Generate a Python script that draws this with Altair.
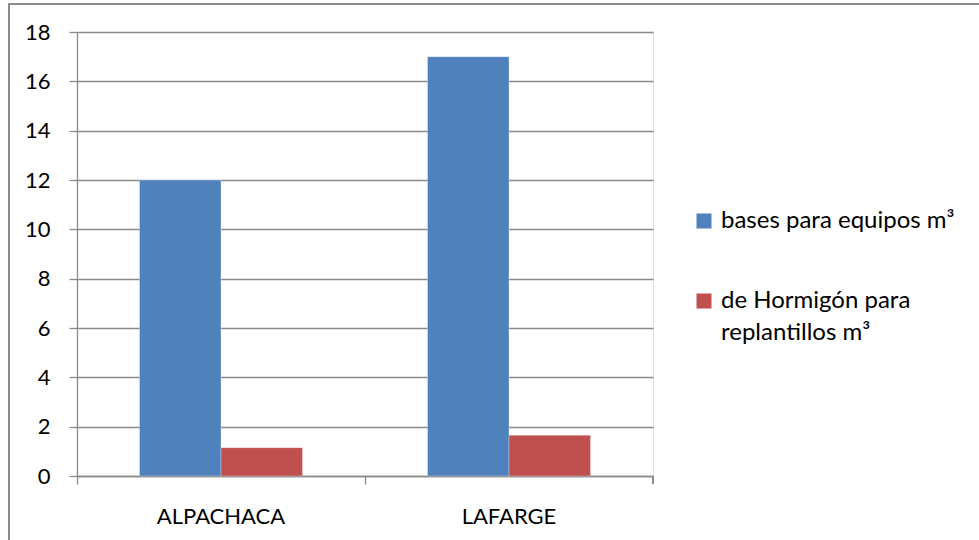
import altair as alt
import pandas as pd

categories = ["ALPACHACA", "LAFARGE"]
series = ["bases para equipos m³", "de Hormigón para replantillos m³"]
bases_values = [12, 17]
hormigon_values = [1.15, 1.65]
y_ticks = [0, 2, 4, 6, 8, 10, 12, 14, 16, 18]
colors = ["#4F81BD", "#C0504D"]

rows = []
for c, v in zip(categories, bases_values):
    rows.append({"categoria": c, "serie": series[0], "valor": v})
for c, v in zip(categories, hormigon_values):
    rows.append({"categoria": c, "serie": series[1], "valor": v})
df = pd.DataFrame(rows)

W, H = 576, 444
GRID = "#8a8a8a"
FONT = "Lato"

label_expr = (
    "datum.label == '" + series[1] + "' ? ['de Hormigón para', 'replantillos m³'] : datum.label"
)

bars = alt.Chart(df).mark_bar(stroke="white", strokeWidth=0.5, strokeOpacity=0.6).encode(
    x=alt.X(
        "categoria:N",
        sort=categories,
        scale=alt.Scale(paddingInner=0, paddingOuter=0),
        axis=alt.Axis(
            title=None,
            labelAngle=0,
            bandPosition=0,
            tickSize=8,
            tickColor=GRID,
            tickWidth=1.3,
            domainColor=GRID,
            domainWidth=1.3,
            labelFont=FONT,
            labelFontSize=22,
            labelColor="black",
            labelPadding=22,
            grid=False,
        ),
    ),
    xOffset=alt.XOffset(
        "serie:N", sort=series, scale=alt.Scale(paddingInner=0, paddingOuter=0.767)
    ),
    y=alt.Y(
        "valor:Q",
        scale=alt.Scale(domain=[0, 18], nice=False),
        axis=alt.Axis(
            title=None,
            values=y_ticks,
            tickSize=8,
            tickColor=GRID,
            tickWidth=1.3,
            domainColor=GRID,
            domainWidth=1.3,
            gridColor=GRID,
            gridWidth=1.3,
            labelFont=FONT,
            labelFontSize=22,
            labelColor="black",
            labelPadding=19,
        ),
    ),
    color=alt.Color(
        "serie:N",
        sort=series,
        scale=alt.Scale(domain=series, range=colors),
        legend=alt.Legend(
            title=None,
            orient="none",
            legendX=615,
            legendY=177,
            padding=0,
            symbolType="square",
            symbolSize=225,
            symbolStrokeWidth=0,
            labelFont=FONT,
            labelFontSize=24,
            labelColor="black",
            labelBaseline="middle",
            labelExpr=label_expr,
            labelLimit=400,
            rowPadding=56,
            labelOffset=5,
        ),
    ),
)

end_tick = alt.Chart(df).mark_rule(color=GRID, strokeWidth=1.3).encode(
    x=alt.value(W), y=alt.value(H), y2=alt.value(H + 8)
)

border = alt.Chart(df).mark_rect(fill="transparent", stroke="#8c8c8c", strokeWidth=2).encode(
    x=alt.value(-68), y=alt.value(-28), x2=alt.value(1000), y2=alt.value(600)
)

chart = alt.layer(border, bars, end_tick).properties(
    width=W,
    height=H,
    autosize=alt.AutoSizeParams(type="none"),
    padding={"left": 77, "top": 32, "right": 979 - 77 - W, "bottom": 540 - 32 - H},
    background="white",
).configure_view(strokeWidth=0).configure(
    style={"guide-label": {"lineHeight": 32}}
)

chart.save("out.html", embed_options={"renderer": "svg", "actions": False})
